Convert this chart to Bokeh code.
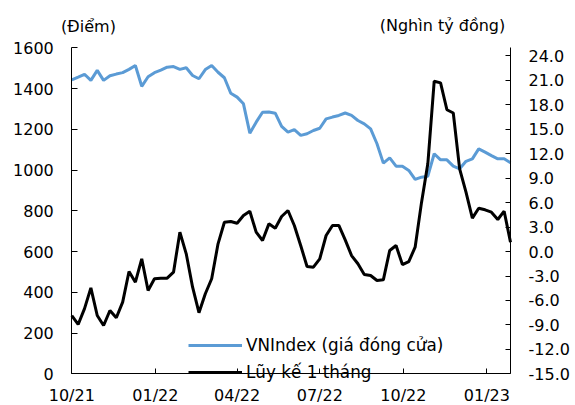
import pandas as pd
from bokeh.plotting import figure
from bokeh.models import (Range1d, LinearAxis, DatetimeAxis, FixedTicker,
                          NumeralTickFormatter, DatetimeTickFormatter,
                          Legend, LegendItem, Label)
from bokeh.embed import file_html
from bokeh.resources import INLINE

# ---- data (weekly, starting 01/10/2021) ----
start_date = "2021-10-01"
vnindex = [1443, 1456, 1470, 1440, 1489, 1440, 1463, 1471, 1478, 1494,
           1513, 1411, 1458, 1478, 1490, 1505, 1508, 1494, 1502, 1464,
           1448, 1493, 1513, 1480, 1453, 1377, 1358, 1325, 1181, 1235,
           1284, 1285, 1279, 1214, 1186, 1198, 1170, 1178, 1194, 1205,
           1251, 1260, 1268, 1280, 1268, 1243, 1227, 1202, 1129, 1034,
           1060, 1019, 1019, 998, 954, 965, 970, 1080, 1050, 1050,
           1019, 1006, 1043, 1055, 1104, 1088, 1071, 1055, 1055, 1036]
luy_ke = [-7.85, -8.95, -7.0, -4.45, -7.85, -9.07, -7.23, -8.13, -6.21, -2.45,
          -3.76, -0.89, -4.78, -3.34, -3.27, -3.27, -2.53, 2.38, -0.28, -4.37,
          -7.5, -5.18, -3.34, 0.95, 3.6, 3.69, 3.48, 4.42, 4.95, 2.38,
          1.36, 3.4, 2.87, 4.3, 5.04, 3.2, 0.74, -1.83, -1.92, -0.89,
          1.97, 3.2, 3.2, 1.44, -0.49, -1.5, -2.82, -2.94, -3.55, -3.47,
          0.13, 0.74, -1.6, -1.23, 0.53, 6.0, 10.8, 20.9, 20.7, 17.4,
          17.0, 10.15, 7.28, 4.1, 5.32, 5.12, 4.83, 3.93, 4.95, 1.15]
dates = pd.date_range(start_date, periods=len(vnindex), freq="7D")

x_tick_dates = ["2021-10-01", "2022-01-01", "2022-04-01", "2022-07-01",
                "2022-10-01", "2023-01-01"]
left_ticks = [0, 200, 400, 600, 800, 1000, 1200, 1400, 1600]
right_ticks = [-15, -12, -9, -6, -3, 0, 3, 6, 9, 12, 15, 18, 21, 24]
left_lim = (0, 1600)
right_lim = (-15, 25)

label_vnindex = "VNIndex (giá đóng cửa)"
label_luyke = "Lũy kế 1 tháng"
left_title = "(Điểm)"
right_title = "(Nghìn tỷ đồng)"

# ---- layout (pixels) ----
W, H = 575, 405
PL, PR, PT, PB = 71.3, 510.0, 47.3, 373.3   # plot area edges

FONT = "DejaVu Sans"
FS = "16px"

def ms(d):
    return pd.Timestamp(d).value / 1e6

x0, x1 = ms(dates[0]), ms(dates[-1])
ppx = (x1 - x0) / (PR - PL)                  # ms per pixel
def px_x(px):
    return x0 + (px - PL) * ppx

lpp = (left_lim[1] - left_lim[0]) / (PB - PT)    # left units per pixel
rpp = (right_lim[1] - right_lim[0]) / (PB - PT)  # right units per pixel
def px_yl(py):
    return left_lim[0] + (PB - py) * lpp
def px_yr(py):
    return right_lim[0] + (PB - py) * rpp

p = figure(width=W, height=H, output_backend="svg", toolbar_location=None,
           x_axis_type="datetime", x_axis_location=None, y_axis_location=None,
           x_range=Range1d(px_x(0), px_x(W)),
           y_range=Range1d(px_yl(H), px_yl(0)),
           min_border_left=0, min_border_right=0,
           min_border_top=0, min_border_bottom=0)
p.outline_line_color = None
p.grid.visible = False
p.background_fill_color = "white"
p.border_fill_color = "white"
p.extra_y_ranges = {"flow": Range1d(px_yr(H), px_yr(0))}

r_vn = p.line(dates, vnindex, line_color="#5B9BD5", line_width=3)
r_lk = p.line(dates, luy_ke, line_color="black", line_width=3, y_range_name="flow")

def style_axis(ax, tick_in):
    ax.axis_line_color = "black"
    ax.axis_line_width = 1
    ax.major_tick_line_color = "black"
    ax.major_tick_out = 0
    ax.major_tick_in = tick_in
    ax.minor_tick_line_color = None
    ax.major_label_text_font = FONT
    ax.major_label_text_font_size = FS
    ax.major_label_text_color = "black"

# bottom axis at y = 0
xa = DatetimeAxis(fixed_location=0, bounds=(x0, x1))
style_axis(xa, 5)
xa.ticker = FixedTicker(ticks=[ms(d) for d in x_tick_dates])
xa.formatter = DatetimeTickFormatter(days="%m/%y", months="%m/%y", years="%m/%y",
                                     hours="%m/%y")
xa.major_label_standoff = 12
p.add_layout(xa, "below")

# left axis
ya = LinearAxis(fixed_location=x0, bounds=left_lim)
style_axis(ya, 6)
ya.ticker = FixedTicker(ticks=left_ticks)
ya.major_label_standoff = 18
p.add_layout(ya, "left")

# right axis
ra = LinearAxis(y_range_name="flow", fixed_location=x1, bounds=right_lim)
style_axis(ra, 5)
ra.ticker = FixedTicker(ticks=right_ticks)
ra.formatter = NumeralTickFormatter(format="0.0")
ra.major_label_standoff = 18
p.add_layout(ra, "right")

legend = Legend(items=[LegendItem(label=label_vnindex, renderers=[r_vn]),
                       LegendItem(label=label_luyke, renderers=[r_lk])],
                location=(188, 23), orientation="vertical",
                padding=0, margin=0, spacing=7,
                glyph_width=54, glyph_height=20, label_height=20,
                label_standoff=4,
                label_text_font=FONT, label_text_font_size="16.8px",
                label_text_color="black",
                background_fill_alpha=0, border_line_alpha=0)
p.add_layout(legend, "center")

p.add_layout(Label(x=px_x(88), y=px_yl(26), text=left_title,
                   text_align="center", text_baseline="middle",
                   text_font=FONT, text_font_size=FS, text_color="black"))
p.add_layout(Label(x=px_x(442), y=px_yl(25), text=right_title,
                   text_align="center", text_baseline="middle",
                   text_font=FONT, text_font_size=FS, text_color="black"))

open("out.html", "w").write(file_html(p, INLINE))
